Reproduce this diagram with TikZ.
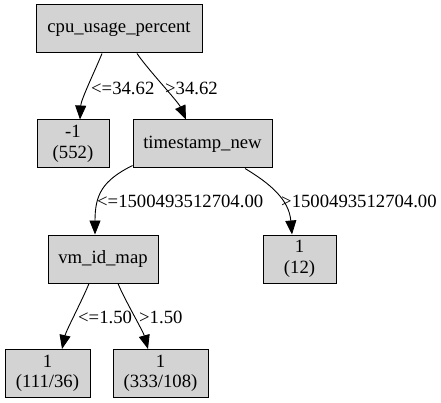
\documentclass[tikz,border=0pt]{standalone}
\usepackage{fontspec}
\setmainfont{Liberation Serif}
\usetikzlibrary{arrows.meta}
\definecolor{nodegray}{RGB}{211,211,211}
\begin{document}
\begin{tikzpicture}[x=1pt,y=-1pt,
  box/.style={draw=black, fill=nodegray, line width=1pt, inner sep=0pt, align=center,
    minimum height=48pt, font=\fontsize{18.7}{20.5}\selectfont},
  lbl/.style={anchor=west, inner sep=0pt, font=\fontsize{18.7}{20.5}\selectfont},
  conn/.style={draw=black, line width=0.9pt, -{Triangle[length=14pt,width=11pt]}}]
\useasboundingbox (0,0) rectangle (441,403);

\node[box, minimum width=166pt] (cpu) at (119,29) {cpu\_usage\_percent};
\node[box, minimum width=72pt] (n1) at (73,144) {-1\\(552)};
\node[box, minimum width=139pt] (ts) at (202.5,144) {timestamp\_new};
\node[box, minimum width=110pt] (vm) at (103,259) {vm\_id\_map};
\node[box, minimum width=73pt] (l12) at (299.5,259) {1\\(12)};
\node[box, minimum width=85pt] (la) at (47.5,373.5) {1\\(111/36)};
\node[box, minimum width=95pt] (lb) at (160.5,373.5) {1\\(333/108)};

\draw[conn] ([xshift=-17pt]cpu.south) .. controls +(-6,15) and +(1,-20) .. ([xshift=7pt]n1.north);
\draw[conn] ([xshift=18pt]cpu.south) .. controls +(10,15) and +(-8,-18) .. ([xshift=-16.5pt]ts.north);
\draw[conn] ([yshift=3pt]ts.south west) .. controls +(-30,15) and +(0,-40) .. ([xshift=-8pt]vm.north);
\draw[conn] ([xshift=42.5pt]ts.south) .. controls +(25,15) and +(-3,-35) .. ([xshift=-7.5pt]l12.north);
\draw[conn] ([xshift=-14pt]vm.south) .. controls +(-6,15) and +(4,-18) .. ([xshift=14.5pt]la.north);
\draw[conn] ([xshift=15pt]vm.south) .. controls +(6,15) and +(-5,-18) .. ([xshift=-12.5pt]lb.north);

\node[lbl] (e1) at (91,88) {<=34.62};
\node[lbl] (e2) at (165,88) {>34.62};
\node[lbl] (e3) at (97,201) {<=1500493512704.00};
\node[lbl] (e4) at (281,201) {>1500493512704.00};
\node[lbl] (e5) at (78,317) {<=1.50};
\node[lbl] (e6) at (139,317) {>1.50};
\end{tikzpicture}
\end{document}
